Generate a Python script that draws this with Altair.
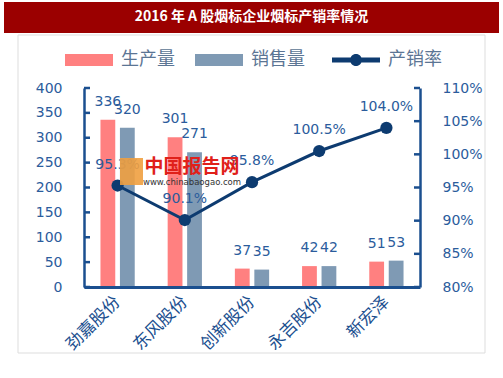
import altair as alt
import pandas as pd

# ---- data ----
companies = ["劲嘉股份", "东风股份", "创新股份", "永吉股份", "新宏泽"]
production = [336, 301, 37, 42, 51]
sales = [320, 271, 35, 42, 53]
rate = [95.3, 90.1, 95.8, 100.5, 104.0]
series_names = ["生产量", "销售量", "产销率"]
left_ticks = [0, 50, 100, 150, 200, 250, 300, 350, 400]
right_ticks = [80, 85, 90, 95, 100, 105, 110]
title_text = "2016 年 A 股烟标企业烟标产销率情况"
wm_name = "中国报告网"
wm_url = "www.chinabaogao.com"

# ---- styles ----
NAVY = "#0D3B70"
AXIS = "#1B4F8F"
LABEL = "#2B5C9C"
RED = "#FF8080"
GREY = "#7F9AB4"
BANNER = "#9B0000"
NUM_FONT = "DejaVu Sans"
CJK = "Noto Sans CJK SC"

bars_df = pd.DataFrame({
    "company": companies * 2,
    "series": [series_names[0]] * len(companies) + [series_names[1]] * len(companies),
    "value": production + sales,
})
rate_df = pd.DataFrame({"company": companies, "rate": rate, "series": [series_names[2]] * len(companies)})
lt_df = pd.DataFrame({"value": left_ticks})
rt_df = pd.DataFrame({"rate": right_ticks})
one = pd.DataFrame({"k": [0]})

x_enc = alt.X(
    "company:N", sort=companies, title=None,
    scale=alt.Scale(paddingInner=0.49, paddingOuter=0.245),
    axis=alt.Axis(domainColor=AXIS, domainWidth=3, ticks=False, labelAngle=-45,
                  labelAlign="right", labelBaseline="middle", labelPadding=12,
                  labelFont=CJK, labelFontSize=17, labelColor=AXIS, grid=False, zindex=1),
)
xoff = alt.XOffset("series:N", sort=series_names[:2],
                   scale=alt.Scale(paddingInner=0.24, paddingOuter=0))
left_scale = alt.Scale(domain=[0, 400], nice=False)
right_scale = alt.Scale(domain=[80, 110], nice=False, zero=False)

y_left = alt.Y("value:Q", scale=left_scale, title=None,
               axis=alt.Axis(orient="left", values=left_ticks, ticks=False,
                             domainColor=AXIS, domainWidth=2.5, labelPadding=22,
                             labelFont=NUM_FONT, labelFontSize=14, labelColor=LABEL,
                             grid=False, zindex=1))
y_right = alt.Y("rate:Q", scale=right_scale, title=None,
                axis=alt.Axis(orient="right", values=right_ticks, ticks=False,
                              domainColor=AXIS, domainWidth=2.5, labelPadding=22,
                              labelFont=NUM_FONT, labelFontSize=14, labelColor=LABEL,
                              labelExpr="datum.value + '%'", grid=False, zindex=1))

rect_path = "M-1,-0.25H1V0.25H-1Z"
line_path = ("M-1,-0.1H1V0.1H-1Z M-0.25,0 A0.25,0.25 0 1,1 0.25,0 "
             "A0.25,0.25 0 1,1 -0.25,0 Z")

legend_common = dict(
    orient="none", direction="horizontal", title=None,
    symbolSize=2304, symbolStrokeWidth=0, symbolOpacity=1, labelFont=CJK, labelFontSize=18,
    labelColor="#5B7594", labelOffset=8, columnPadding=20,
)
bar_legend = alt.Legend(legendX=-19, legendY=-52, symbolType=rect_path, **legend_common)
line_legend = alt.Legend(legendX=248, legendY=-52, symbolType=line_path, **legend_common)

bars = alt.Chart(bars_df).mark_bar().encode(
    x=x_enc, xOffset=xoff, y=y_left,
    color=alt.Color("series:N", scale=alt.Scale(domain=series_names[:2], range=[RED, GREY]),
                    legend=bar_legend),
)
bar_labels = alt.Chart(bars_df).mark_text(
    dy=-18, baseline="middle", font=NUM_FONT, fontSize=14, color=LABEL
).encode(x=x_enc, xOffset=xoff, y=y_left, text=alt.Text("value:Q"))
left_tick_marks = alt.Chart(lt_df).mark_rule(color=AXIS, strokeWidth=2.5).encode(
    y=y_left, x=alt.value(0), x2=alt.value(6))

left_group = alt.layer(bars, bar_labels, left_tick_marks)

line = alt.Chart(rate_df).mark_line(color=NAVY, strokeWidth=3).encode(x=x_enc, y=y_right)
points = alt.Chart(rate_df).mark_circle(size=150, opacity=1).encode(
    x=x_enc, y=y_right,
    color=alt.Color("series:N", scale=alt.Scale(domain=series_names[2:], range=[NAVY]),
                    legend=line_legend),
)
rate_labels = alt.Chart(rate_df).transform_calculate(
    lab="format(datum.rate, '.1f') + '%'"
).mark_text(dy=-21, baseline="middle", font=NUM_FONT, fontSize=14, color=LABEL).encode(
    x=x_enc, y=y_right, text="lab:N")
right_tick_marks = alt.Chart(rt_df).mark_rule(color=AXIS, strokeWidth=2.5).encode(
    y=y_right, x=alt.value(330), x2=alt.value(336))

right_group = alt.layer(line, points, rate_labels, right_tick_marks)

banner = alt.Chart(one).mark_rect(color=BANNER).encode(
    x=alt.value(-80), x2=alt.value(415), y=alt.value(-86), y2=alt.value(-55))
title = alt.Chart(one).mark_text(
    text=title_text, color="white", font=CJK, fontWeight="bold", fontSize=14
).encode(x=alt.value(167.5), y=alt.value(-71))
frame = alt.Chart(one).mark_rect(filled=False, fillOpacity=0, stroke="#DDDDDD", strokeWidth=1).encode(
    x=alt.value(-66), x2=alt.value(401), y=alt.value(-53), y2=alt.value(265))

wm_logo = alt.Chart(one).mark_rect(color="#F0A040", opacity=0.9).encode(
    x=alt.value(36), x2=alt.value(59), y=alt.value(70), y2=alt.value(97))
wm_text = alt.Chart(one).mark_text(
    text=wm_name, color="#E0201A", font=CJK, fontWeight="bold", fontSize=19
).encode(x=alt.value(108), y=alt.value(79))
wm_url_text = alt.Chart(one).mark_text(
    text=wm_url, color="#333333", font=NUM_FONT, fontSize=8.5
).encode(x=alt.value(108), y=alt.value(94))

chart = alt.layer(
    banner, title, frame, left_group, right_group, wm_logo, wm_text, wm_url_text
).resolve_scale(y="independent", color="independent").properties(
    width=336, height=199, autosize="none",
    padding={"left": 84, "top": 88, "right": 83, "bottom": 91},
    background="white",
).configure_view(stroke=None)

chart.save("out.html", embed_options={"renderer": "svg", "actions": False})
